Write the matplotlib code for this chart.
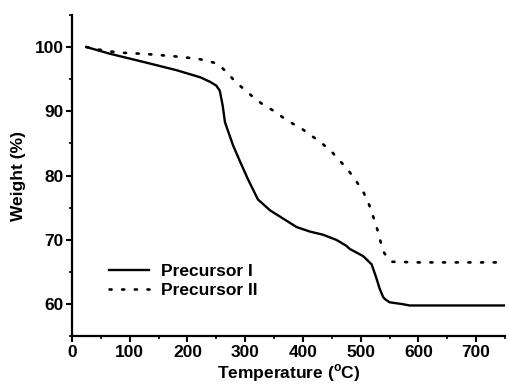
import numpy as np
import matplotlib
matplotlib.use('Agg')
import matplotlib.pyplot as plt
from matplotlib.ticker import MultipleLocator

# TGA curves
temp_1 = [25, 66, 123, 181, 222, 239, 250, 256, 261, 265, 279, 292, 305, 322, 343,
          366, 389, 412, 435, 458, 475, 481, 504, 519, 526, 533, 539, 542, 550, 573,
          585, 650, 750]
weight_1 = [100, 98.95, 97.7, 96.4, 95.3, 94.6, 94.0, 93.2, 90.9, 88.3, 84.7, 82.0, 79.4,
            76.3, 74.6, 73.3, 72.0, 71.3, 70.8, 70.0, 69.1, 68.6, 67.5, 66.2, 64.4,
            62.4, 61.1, 60.8, 60.3, 60.0, 59.8, 59.8, 59.8]

temp_2 = [25, 47, 67, 89, 111, 130, 151, 173, 194, 216, 233, 252, 268, 283, 301, 314,
          330, 349, 366, 384, 398, 415, 432, 450, 465, 478, 492, 505, 515, 523, 530,
          536, 540, 548, 555, 600, 750]
weight_2 = [100, 99.6, 99.3, 99.1, 99.0, 98.9, 98.75, 98.6, 98.4, 98.2, 97.9, 97.4, 96.1,
            94.6, 93.2, 92.2, 91.1, 90.1, 89.0, 88.0, 87.3, 86.2, 85.1, 83.7, 82.2,
            80.9, 79.2, 77.4, 75.4, 73.3, 71.3, 69.2, 68.1, 67.0, 66.6, 66.5, 66.5]

labels = ['Precursor I', 'Precursor II']

plt.rcParams['font.family'] = ['Liberation Sans', 'DejaVu Sans']
plt.rcParams['font.weight'] = 'bold'
plt.rcParams['mathtext.fontset'] = 'custom'
plt.rcParams['mathtext.rm'] = 'Liberation Sans:bold'
plt.rcParams['mathtext.bf'] = 'Liberation Sans:bold'

fig = plt.figure(figsize=(5.07, 3.92), dpi=100)
ax = fig.add_axes([0.142, 0.142, 0.854, 0.82])

ax.plot(temp_1, weight_1, color='black', lw=1.7, label=labels[0])
ax.plot(temp_2, weight_2, color='black', lw=1.9, linestyle=(0, (0.8, 4.0)),
        dash_capstyle='round', label=labels[1])

ax.set_xlim(0, 750)
ax.set_ylim(55, 105)
ax.xaxis.set_major_locator(MultipleLocator(100))
ax.xaxis.set_minor_locator(MultipleLocator(50))
ax.yaxis.set_major_locator(MultipleLocator(10))
ax.yaxis.set_minor_locator(MultipleLocator(5))
ax.set_yticks([60, 70, 80, 90, 100])

for side in ['top', 'right']:
    ax.spines[side].set_visible(False)
for side in ['left', 'bottom']:
    ax.spines[side].set_linewidth(1.6)

ax.tick_params(which='major', direction='out', length=4, width=1.5, labelsize=12.5, pad=2)
ax.tick_params(which='minor', direction='out', length=2.5, width=1.2)

ax.set_xlabel('Temperature ($^{\\mathrm{o}}$C)', fontsize=12.5, fontweight='bold', labelpad=2)
ax.set_ylabel('Weight (%)', fontsize=12.5, fontweight='bold', labelpad=6)

ax.legend(loc='lower left', bbox_to_anchor=(0.05, 0.07), frameon=False, fontsize=12.5,
          handlelength=2.3, handletextpad=0.7, labelspacing=0.25)

plt.savefig('out.png', dpi=100)
plt.close()
